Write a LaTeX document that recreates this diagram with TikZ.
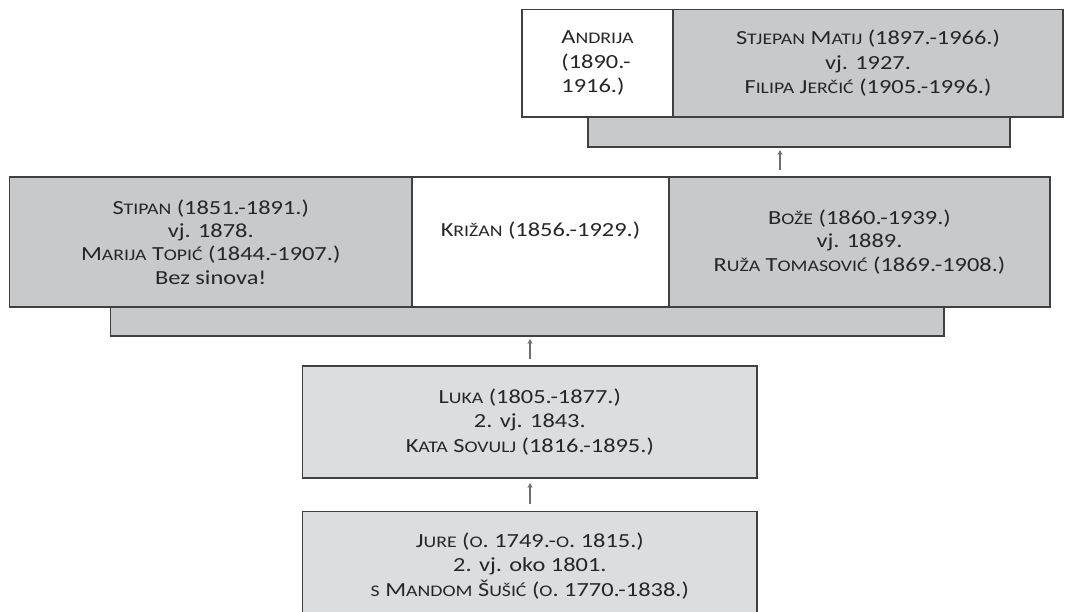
\documentclass[tikz,border=0pt]{standalone}
\usepackage{fontspec}
\setmainfont{Carlito}[FakeStretch=1.22]
\usetikzlibrary{arrows.meta}
\definecolor{boxdark}{HTML}{C8C9CB}
\definecolor{boxlight}{HTML}{DCDDDF}
\definecolor{edgec}{HTML}{404040}
\definecolor{txtc}{HTML}{262626}
\definecolor{arrowc}{HTML}{6E6E6E}
\newcommand\smc[1]{{\fontsize{16.2}{18}\selectfont #1}}
\begin{document}
\begin{tikzpicture}[x=1pt,y=-1pt,
  box/.style={draw=edgec, line width=1.3pt, inner sep=0pt, outer sep=0pt, align=center, text=txtc, font=\fontsize{20}{24.6}\selectfont},
  darkbox/.style={box, fill=boxdark},
  lightbox/.style={box, fill=boxlight},
  wbox/.style={box, fill=white},
  midfont/.style={font=\fontsize{20}{23.3}\selectfont},
  plain/.style={inner sep=0pt, align=center, text=txtc, font=\fontsize{20}{23.3}\selectfont},
  arr/.style={draw=arrowc, line width=1.2pt, -{Stealth[length=5pt,width=5pt]}}]
\useasboundingbox (0,0) rectangle (1065,612);
\clip (0,0) rectangle (1065,612);

% bars
\node[darkbox, minimum width=422pt, minimum height=30pt] (topbar) at (799,132) {};
\node[darkbox, minimum width=833.4pt, minimum height=29pt] (midbar) at (527.3,321.5) {};

% top row
\node[wbox, minimum width=151pt, minimum height=107.5pt, align=left] (andrija) at (597.5,63.25)
  {A\smc{NDRIJA}\\(1890.-\\1916.)};
\node[darkbox, minimum width=390pt, minimum height=107.5pt] (stjepan) at (868,63.25)
  {S\smc{TJEPAN} M\smc{ATIJ} (1897.-1966.)\\vj. 1927.\\F\smc{ILIPA} J\smc{ERČIĆ} (1905.-1996.)};

% middle row
\node[darkbox, midfont, minimum width=402.5pt, minimum height=130pt] (stipan) at (210.75,242)
  {S\smc{TIPAN} (1851.-1891.)\\vj. 1878.\\M\smc{ARIJA} T\smc{OPIĆ} (1844.-1907.)\\Bez sinova!};
\node[wbox, minimum width=257pt, minimum height=130pt] (krizan) at (540.5,242) {};
\node[plain] (krizantxt) at ([yshift=11.7pt]krizan.center) {K\smc{RIŽAN} (1856.-1929.)};
\node[darkbox, midfont, minimum width=381pt, minimum height=130pt] (boze) at (859.5,242)
  {B\smc{OŽE} (1860.-1939.)\\vj. 1889.\\R\smc{UŽA} T\smc{OMASOVIĆ} (1869.-1908.)};

% lower boxes
\node[lightbox, minimum width=454.3pt, minimum height=112pt] (luka) at (529.85,422)
  {L\smc{UKA} (1805.-1877.)\\2. vj. 1843.\\K\smc{ATA} S\smc{OVULJ} (1816.-1895.)};
\node[lightbox, minimum width=454.3pt, minimum height=108.3pt] (jure) at (529.85,565.85)
  {J\smc{URE} (\smc{O}. 1749.-\smc{O}. 1815.)\\2. vj. oko 1801.\\\smc{S} M\smc{ANDOM} Š\smc{UŠIĆ} (\smc{O}. 1770.-1838.)};

% arrows
\coordinate (a1b) at (780,170);
\coordinate (a1t) at (780,150);
\coordinate (a2b) at (530,359);
\coordinate (a2t) at (530,339);
\coordinate (a3b) at (530,504);
\coordinate (a3t) at (530,483);
\draw[arr] (a1b) -- (a1t);
\draw[arr] (a2b) -- (a2t);
\draw[arr] (a3b) -- (a3t);
\end{tikzpicture}
\end{document}
